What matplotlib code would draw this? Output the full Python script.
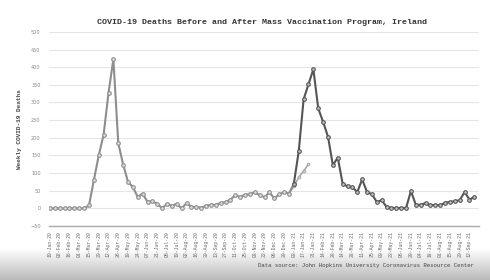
import numpy as np
import pandas as pd
import matplotlib
matplotlib.use("Agg")
from matplotlib import pyplot as plt

# weekly deaths (week 0 = 19-Jan-20)
before_deaths = [0, 0, 0, 0, 0, 0, 0, 0, 8, 80, 150, 209, 327, 423, 185, 124, 75, 60,
                 32, 42, 18, 20, 13, 0, 13, 7, 13, 0, 15, 4, 4, 2, 7, 10, 10, 15, 18,
                 25, 37, 32, 39, 40, 46, 37, 32, 45, 28, 40, 45, 42, 70]
after_deaths = [70, 162, 309, 352, 394, 283, 245, 203, 122, 144, 70, 62, 60, 46, 82,
                46, 40, 18, 23, 4, 1, 1, 1, 1, 49, 10, 10, 15, 8, 10, 8, 16, 18, 20,
                23, 46, 25, 32]
trend_deaths = [42, 62, 88, 106, 125]
after_start = 50
trend_start = 49

weeks = pd.date_range("2020-01-19", periods=88, freq="7D")
tick_labels = [d.strftime("%d-%b-%y") for d in weeks[::2]]

title = "COVID-19 Deaths Before and After Mass Vaccination Program, Ireland"
ylabel = "Weekly COVID-19 Deaths"
source = "Data source: John Hopkins University Coronavirus Resource Center"

mono = "Liberation Mono"

fig = plt.figure(figsize=(4.9, 2.8), dpi=100)

# grey shading along the bottom of the photo
bg = fig.add_axes([0, 0, 1, 1], zorder=-5)
grad = np.ones((280, 1))
rows = np.arange(280)
grad[rows > 248, 0] = 1 - (rows[rows > 248] - 248) / 32 * 0.28
bg.imshow(grad, cmap="gray", vmin=0, vmax=1, aspect="auto", extent=[0, 1, 0, 1])
bg.axis("off")

ax = fig.add_axes([0.1, 0.193, 0.878, 0.693])
ax.patch.set_alpha(0)

x_before = np.arange(len(before_deaths))
x_after = np.arange(after_start, after_start + len(after_deaths))
x_trend = np.arange(trend_start, trend_start + len(trend_deaths))

ax.plot(x_before, before_deaths, color="#8e8e8e", lw=1.5, marker="o", ms=2.6,
        mfc="#e0e0e0", mec="#8e8e8e", mew=0.8, zorder=3)
ax.plot(x_after, after_deaths, color="#555555", lw=1.5, marker="o", ms=2.6,
        mfc="#c4c4c4", mec="#555555", mew=0.8, zorder=4)
ax.plot(x_trend, trend_deaths, color="#a8a8a8", lw=1.2, marker="o", ms=2,
        mfc="#d0d0d0", mec="#a8a8a8", mew=0.6, zorder=2)

ax.set_ylim(-50, 500)
ax.set_xlim(-0.2, 88)
ax.set_yticks(range(-50, 501, 50))
ax.set_xticks(range(0, 88, 2))
ax.set_xticklabels(tick_labels, rotation=90, fontsize=3.4, family=mono, color="#666666")
ax.tick_params(axis="y", labelsize=3.6, colors="#888888", length=0, pad=6)
ax.tick_params(axis="x", length=0, pad=4)
ax.grid(axis="y", color="#e6e6e6", lw=0.8)
for s in ["top", "right", "left"]:
    ax.spines[s].set_visible(False)
ax.spines["bottom"].set_color("#aaaaaa")
ax.spines["bottom"].set_linewidth(1.0)

ax.set_ylabel(ylabel, family=mono, fontsize=4.4, fontweight="bold", color="#444444",
              labelpad=6)

fig.text(0.535, 0.92, title, ha="center", va="center", family=mono, fontsize=6,
         fontweight="bold", color="#333333")
fig.text(0.968, 0.05, source, ha="right", va="center", family=mono, fontsize=4.1,
         color="#444444")

plt.savefig("out.png", dpi=100)
